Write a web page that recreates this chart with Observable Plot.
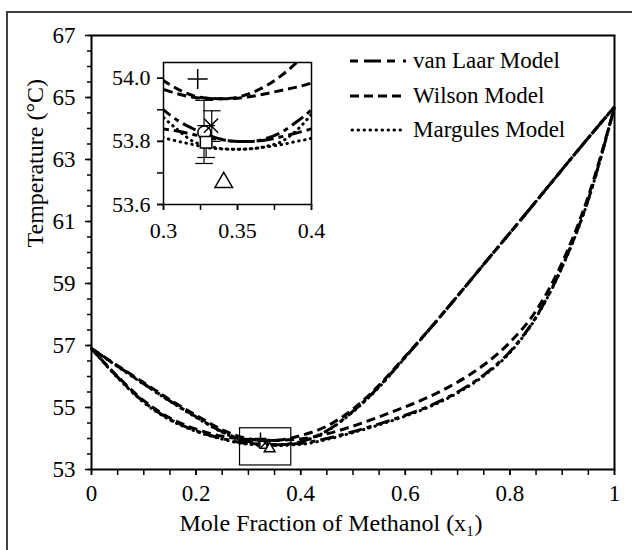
<!DOCTYPE html>
<html><head><meta charset="utf-8">
<script src="https://cdn.jsdelivr.net/npm/d3@7"></script>
<script src="https://cdn.jsdelivr.net/npm/@observablehq/plot@0.6"></script>
<style>
html,body{margin:0;padding:0;background:#fff;overflow:hidden;width:632px;height:550px;}
#wrap{position:relative;width:632px;height:550px;overflow:hidden;font-family:"Liberation Serif","Times New Roman",serif;}
#bTop{position:absolute;left:6px;top:11px;width:626px;height:2px;background:#404040;}
#bLeft{position:absolute;left:6px;top:11px;width:2px;height:539px;background:#404040;}
#main{position:absolute;left:0;top:0;width:632px;height:550px;}
#inset{position:absolute;left:95px;top:50px;}
#legend{position:absolute;left:348px;top:44px;font-size:23px;color:#000;}
#legend .row{display:flex;align-items:center;height:34.5px;}
#legend svg{margin-right:5px;}
svg text{-webkit-font-smoothing:antialiased;}
</style></head>
<body><div id="wrap"><div id="main"></div><div id="bTop"></div><div id="bLeft"></div><div id="inset"></div><div id="legend"></div></div>
<script>
// ---- data ----
const xFrac = [0,0.05,0.1,0.15,0.2,0.25,0.3,0.31,0.32,0.33,0.34,0.35,0.36,0.37,0.38,0.39,0.4,0.45,0.5,0.55,0.6,0.65,0.7,0.75,0.8,0.85,0.9,0.95,1];
const vanLaarDew = [56.9,56.33,55.77,55.21,54.7,54.22,53.9,53.865,53.84,53.82,53.806,53.8,53.8,53.81,53.83,53.862,53.9,54.25,54.88,55.68,56.63,57.6,58.6,59.62,60.63,61.65,62.68,63.7,64.7];
const wilsonDew = [56.9,56.35,55.8,55.25,54.75,54.28,53.993,53.965,53.945,53.937,53.935,53.94,53.955,53.978,54.01,54.05,54.095,54.4,54.95,55.72,56.65,57.6,58.6,59.62,60.63,61.65,62.68,63.7,64.7];
const margulesDew = [56.9,56.32,55.75,55.2,54.68,54.2,53.876,53.835,53.8,53.785,53.777,53.775,53.777,53.785,53.8,53.835,53.886,54.24,54.86,55.66,56.62,57.6,58.6,59.62,60.63,61.65,62.68,63.7,64.7];
const vanLaarBubble = [56.9,55.98,55.18,54.62,54.25,54.0,53.84,53.832,53.822,53.812,53.805,53.8,53.8,53.805,53.815,53.827,53.84,54.0,54.22,54.47,54.75,55.08,55.5,56.05,56.8,57.92,59.55,61.72,64.7];
const wilsonBubble = [56.9,56.0,55.22,54.66,54.3,54.07,53.965,53.95,53.94,53.936,53.935,53.937,53.943,53.952,53.962,53.972,53.985,54.15,54.4,54.7,55.02,55.38,55.82,56.37,57.1,58.12,59.68,61.82,64.7];
const margulesBubble = [56.9,55.96,55.16,54.6,54.23,53.98,53.812,53.8,53.79,53.78,53.776,53.775,53.777,53.783,53.79,53.8,53.81,53.97,54.19,54.44,54.72,55.05,55.47,56.02,56.77,57.9,59.53,61.7,64.7];
const modelNames = ["van Laar Model","Wilson Model","Margules Model"];

const expX = [0.3231,0.3276,0.3288,0.3321,0.3407];
const expT = [53.998,53.828,53.797,53.85,53.67];
const expSymbol = ["plus","circle","square","times","triangle"];
const errX = [0.3274,0.3288,0.3326];
const errLow = [53.73,53.749,53.80];
const errHigh = [53.93,53.85,53.897];

const zoomBoxX = [0.284,0.382];
const zoomBoxT = [53.13,54.33];

const xTicksMain = [0,0.2,0.4,0.6,0.8,1];
const xTicksMinor = [0,0.05,0.1,0.15,0.2,0.25,0.3,0.35,0.4,0.45,0.5,0.55,0.6,0.65,0.7,0.75,0.8,0.85,0.9,0.95,1];
const yTicksMain = [53,55,57,59,61,63,65,67];
const yTicksMinor = [53,53.5,54,54.5,55,55.5,56,56.5,57,57.5,58,58.5,59,59.5,60,60.5,61,61.5,62,62.5,63,63.5,64,64.5,65,65.5,66,66.5,67];
const insetXTicks = [0.3,0.35,0.4];
const insetXMinor = [0.3,0.325,0.35,0.375,0.4];
const insetYTicks = [53.6,53.8,54.0];
const insetYMinor = [53.6,53.7,53.8,53.9,54.0];
const xTitle = "Mole Fraction of Methanol (x\u2081)";
const yTitle = "Temperature (\u00b0C)";

// ---- styling ----
const dashFor = {"van Laar Model":"14,5,5,5","Wilson Model":"9,5","Margules Model":"0.5,5.5"};
const curves = [
  {model:"van Laar Model", T:vanLaarDew},{model:"van Laar Model", T:vanLaarBubble},
  {model:"Wilson Model", T:wilsonDew},{model:"Wilson Model", T:wilsonBubble},
  {model:"Margules Model", T:margulesDew},{model:"Margules Model", T:margulesBubble}
];
const FONT = "'Liberation Serif', 'Times New Roman', serif";
const capSymbol = {draw(ctx, size){const w=Math.sqrt(size); ctx.moveTo(-w,0); ctx.lineTo(w,0);}};

function curveMarks(clip){
  return curves.map(c => Plot.line(xFrac.map((x,i)=>({x, T:c.T[i]})), {
    x:"x", y:"T", curve:"monotone-x", stroke:"black", strokeWidth:3,
    strokeDasharray: dashFor[c.model], strokeLinecap: c.model==="Margules Model" ? "round" : "butt", clip
  }));
}
function expMarks(r, capW){
  const idx = d3.range(expX.length);
  const eidx = d3.range(errX.length);
  return [
    Plot.ruleX(eidx, {x:i=>errX[i], y1:i=>errLow[i], y2:i=>errHigh[i], stroke:"black", strokeWidth:1.2}),
    Plot.dot(eidx, {x:i=>errX[i], y:i=>errLow[i], symbol:capSymbol, r:capW, stroke:"black", strokeWidth:1.2}),
    Plot.dot(eidx, {x:i=>errX[i], y:i=>errHigh[i], symbol:capSymbol, r:capW, stroke:"black", strokeWidth:1.2}),
    ...idx.map(i => Plot.dot([i], {x:()=>expX[i], y:()=>expT[i], symbol:expSymbol[i], r:r, stroke:"black",
      fill: (expSymbol[i]==="plus"||expSymbol[i]==="times") ? "none" : "white", strokeWidth:1.5}))
  ];
}

const main = Plot.plot({
  width:632, height:550, marginLeft:91, marginRight:18, marginTop:35, marginBottom:81,
  style:{fontFamily:FONT, fontSize:"23px", color:"black", background:"transparent"},
  x:{domain:[0,1]}, y:{domain:[53,67]},
  marks:[
    Plot.axisX({ticks:xTicksMinor, tickSize:6, tickFormat:()=>"", label:null, strokeWidth:1.5}),
    Plot.axisX({ticks:xTicksMain, tickSize:6, tickPadding:9, tickFormat:d=>String(+d.toFixed(2)), label:null, strokeWidth:1.5, fontSize:23}),
    Plot.axisY({ticks:yTicksMinor, tickSize:4, tickFormat:()=>"", label:null, strokeWidth:1.5}),
    Plot.axisY({ticks:yTicksMain, tickSize:6, tickPadding:10, tickFormat:d=>String(d), label:null, strokeWidth:1.5, fontSize:23}),
    Plot.text([yTitle], {frameAnchor:"left", dx:-56, dy:-5, rotate:-90, fontSize:24, fill:"black", text:d=>d}),
    Plot.text([xTitle], {frameAnchor:"bottom", dx:-22, dy:61, fontSize:24, fill:"black", text:d=>d}),
    ...curveMarks(false),
    Plot.rect([0], {x1:()=>zoomBoxX[0], x2:()=>zoomBoxX[1], y1:()=>zoomBoxT[0], y2:()=>zoomBoxT[1], fill:"none", stroke:"black", strokeWidth:1.2}),
    ...expMarks(4, 3),
    Plot.frame({stroke:"black", strokeWidth:2})
  ]
});
document.getElementById("main").appendChild(main);

const inset = Plot.plot({
  width:224, height:194, marginLeft:68, marginRight:8, marginTop:12, marginBottom:40,
  style:{fontFamily:FONT, fontSize:"22px", color:"black", background:"transparent", overflow:"visible"},
  x:{domain:[0.3,0.4]}, y:{domain:[53.6,54.05]},
  marks:[
    Plot.frame({fill:"white", stroke:"none"}),
    Plot.axisX({ticks:insetXMinor, tickSize:6, tickFormat:()=>"", label:null, strokeWidth:1.5}),
    Plot.axisX({ticks:insetXTicks, tickSize:6, tickPadding:12, tickFormat:d=>String(+d.toFixed(2)), label:null, strokeWidth:1.5}),
    Plot.axisY({ticks:insetYMinor, tickSize:6, tickFormat:()=>"", label:null, strokeWidth:1.5}),
    Plot.axisY({ticks:insetYTicks, tickSize:6, tickPadding:7, tickFormat:d=>d.toFixed(1), label:null, strokeWidth:1.5}),
    ...curveMarks(true),
    ...expMarks(6.5, 5),
    Plot.frame({stroke:"black", strokeWidth:1.5})
  ]
});
document.getElementById("inset").appendChild(inset);

// legend
const leg = document.getElementById("legend");
modelNames.forEach(m => {
  const row = document.createElement("div"); row.className = "row";
  const isDot = m==="Margules Model";
  row.innerHTML = `<svg width="60" height="10"><line x1="${isDot?4:2}" x2="58" y1="5" y2="5" stroke="black" stroke-width="3" stroke-dasharray="${m==="van Laar Model"?"8,6,17,6,8":dashFor[m]}" stroke-linecap="${isDot?"round":"butt"}"/></svg><span>${m}</span>`;
  leg.appendChild(row);
});
</script></body></html>
